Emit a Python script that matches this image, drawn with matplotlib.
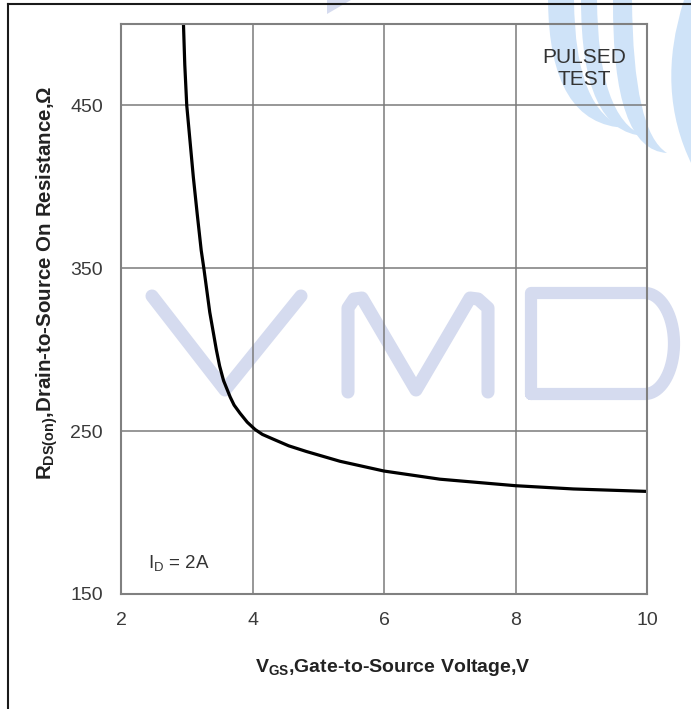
import numpy as np
import matplotlib.pyplot as plt
from matplotlib.lines import Line2D
from matplotlib.patches import PathPatch, Polygon
from matplotlib.path import Path

plt.rcParams['font.family'] = 'Liberation Sans'
plt.rcParams['mathtext.fontset'] = 'custom'
plt.rcParams['mathtext.rm'] = 'Liberation Sans'
plt.rcParams['mathtext.bf'] = 'Liberation Sans:bold'
plt.rcParams['mathtext.it'] = 'Liberation Sans:italic'

# R_DS(on) vs V_GS, I_D = 2A
vgs = [2.95, 2.97, 3.00, 3.05, 3.10, 3.16, 3.22, 3.26, 3.35, 3.45, 3.50, 3.56,
       3.66, 3.72, 3.81, 3.92, 4.04, 4.15, 4.32, 4.55, 4.82, 5.33, 6.00, 6.85,
       8.00, 8.88, 10.0]
rds = [500, 475, 450, 428, 406, 383, 361, 350, 323, 300, 290, 281,
       271, 266, 261, 255.5, 251, 248, 245, 241, 237.5, 231.5, 225.5, 220.5,
       216.5, 214.5, 213]

x_ticks = [2, 4, 6, 8, 10]
y_ticks = [150, 250, 350, 450]

W, H = 691, 709
fig = plt.figure(figsize=(W / 100, H / 100), dpi=100)
fig.patch.set_facecolor('white')


def px(x, y):
    return x / W, 1 - y / H


# background watermark
wm = '#d5dbef'
logo = '#cfe3f8'


def stroke(pts, lw=9.4):
    xs, ys = zip(*[px(*p) for p in pts])
    fig.add_artist(Line2D(xs, ys, transform=fig.transFigure, color=wm, lw=lw,
                          solid_capstyle='round', solid_joinstyle='round', zorder=-5))


stroke([(152, 296), (225, 390), (301, 296)])
stroke([(348, 392), (348, 308), (354, 299), (362, 298), (416, 390),
        (470, 298), (478, 299), (488, 308), (488, 392)])
t = np.linspace(np.pi / 2, -np.pi / 2, 40)
d_arc = [(645 + 29 * np.cos(a), 343.5 - 50.5 * np.sin(a)) for a in t]
stroke([(531, 394), (531, 293), (645, 293)] + d_arc + [(531, 394)], lw=8.8)


def band(p0, c1, tip, c2, p3):
    verts = [px(*p) for p in (p0, c1, tip, c2, p3, p0)]
    codes = [Path.MOVETO, Path.CURVE3, Path.CURVE3, Path.CURVE3, Path.CURVE3, Path.CLOSEPOLY]
    fig.add_artist(PathPatch(Path(verts, codes), transform=fig.transFigure,
                             fc=logo, ec='none', zorder=-5))


band((548, 0), (549, 125), (626, 128), (575, 112), (574, 0))
band((581, 0), (581, 132), (644, 136), (598, 118), (597, 0))
band((613, 0), (612, 150), (667, 153), (633, 132), (632, 0))
band((684, 0), (655, 90), (692, 165), (692, 80), (692, 0))
fig.add_artist(Polygon([px(327, 0), px(327, 14), px(351, 0)], closed=True,
                       transform=fig.transFigure, fc=wm, ec='none', zorder=-5))

# outer frame
fig.add_artist(Line2D(*zip(px(7.5, 4), px(691, 4)), transform=fig.transFigure,
                      color='#1a1a1a', lw=1.5))
fig.add_artist(Line2D(*zip(px(7.5, 4), px(7.5, 709)), transform=fig.transFigure,
                      color='#1a1a1a', lw=1.5))

ax = fig.add_axes([121 / W, 1 - 594 / H, 526 / W, 570 / H])
ax.patch.set_facecolor('none')

ax.plot(vgs, rds, color='black', lw=2.3, solid_joinstyle='round')

ax.set_xlim(2, 10)
ax.set_ylim(150, 500)
ax.set_xticks(x_ticks)
ax.set_yticks(y_ticks)
ax.grid(True, color='#7a7a7a', lw=1.1)
ax.tick_params(length=0, labelsize=14, labelcolor='#3a3a3a')
ax.tick_params(axis='x', pad=13)
ax.tick_params(axis='y', pad=13)
for s in ax.spines.values():
    s.set_color('#808080')
    s.set_linewidth(1.5)

ax.text(0.88, 0.922, 'PULSED\nTEST', transform=ax.transAxes,
        ha='center', va='center', fontsize=15, color='#333333', linespacing=1.2)
ax.text(0.052, 0.055, r'$\mathrm{I_D}$ = 2A', transform=ax.transAxes,
        ha='left', va='center', fontsize=13.5, color='#333333')

fig.text(*px(393, 667), r'$\mathbf{V_{GS}}$,Gate-to-Source Voltage,V',
         ha='center', va='center', fontsize=14, fontweight='bold', color='#222222')
fig.text(*px(47, 283), r'$\mathbf{R_{DS(on)}}$,Drain-to-Source On Resistance,Ω',
         ha='center', va='center', rotation=90, fontsize=14.8, fontweight='bold',
         color='#222222')

fig.savefig('out.png', dpi=100)
